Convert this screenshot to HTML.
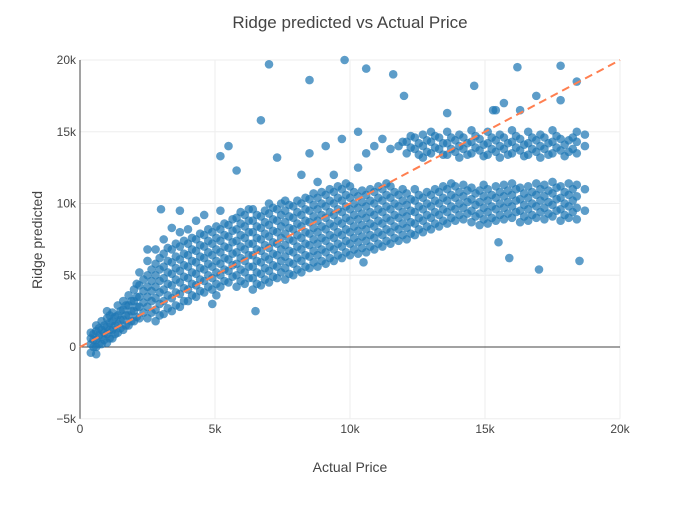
<!DOCTYPE html>
<html><head><meta charset="utf-8"><style>
body{margin:0;background:#fff;}
svg{font-family:"Liberation Sans",sans-serif;}
</style></head><body>
<svg id="chart" width="700" height="500">
<rect width="700" height="500" fill="#fff"/>
<text x="350" y="28" text-anchor="middle" font-size="17" fill="#444">Ridge predicted vs Actual Price</text>
<g id="grid"></g>
<g id="axes"></g>
<g id="points"></g>
<g id="ref"></g>
<text x="350" y="472" text-anchor="middle" font-size="14" fill="#444">Actual Price</text>
<text x="0" y="0" transform="translate(42,240) rotate(-90)" text-anchor="middle" font-size="14" fill="#444">Ridge predicted</text>
</svg>
<script>
const xTicks=[0,5000,10000,15000,20000];
const xTickLabels=["0","5k","10k","15k","20k"];
const yTicks=[-5000,0,5000,10000,15000,20000];
const yTickLabels=["−5k","0","5k","10k","15k","20k"];
const refLine=[0,20000];
const actualCols=[0.4,0.6,0.8,1.0,1.2,1.4,1.6,1.8,2.0,2.2,2.5,2.8,3.1,3.4,3.7,4.0,4.3,4.6,4.9,5.2,5.5,5.8,6.1,6.4,6.7,7.0,7.3,7.6,7.9,8.2,8.5,8.8,9.1,9.4,9.7,10.0,10.3,10.6,10.9,11.2,11.5,11.8,12.1,12.4,12.7,13.0,13.3,13.6,13.9,14.2,14.5,14.8,15.1,15.4,15.7,16.0,16.3,16.6,16.9,17.2,17.5,17.8,18.1,18.4,18.7];
const predictedCols=[
[-0.4,0.2,0.6,1.0],[-0.5,0,0.5,1.1,1.5],[0.2,0.7,1.2,1.8],[0.3,0.9,1.4,2.0,2.5],[0.6,1.2,1.8,2.4],
[1.0,1.6,2.2,2.9],[1.2,1.9,2.6,3.2],[1.5,2.2,2.9,3.6],[1.8,2.5,3.2,4.0],[2.0,2.8,3.5,4.3,5.2],
[2.0,2.8,3.5,4.2,5.0,6.0],[1.8,2.6,3.4,4.2,5.0,5.8,6.8],[2.3,3.2,4.0,4.8,5.6,6.5,7.5],[2.5,3.4,4.3,5.1,5.9,6.8,8.3],
[2.8,3.7,4.5,5.3,6.1,7.0,8.0,9.5],[3.2,4.0,4.8,5.6,6.4,7.2,8.2],[3.5,4.3,5.1,5.9,6.7,7.5,8.8],[3.8,4.6,5.4,6.2,7.0,7.8,9.2],
[3.0,4.0,4.8,5.6,6.4,7.2,8.0],[4.2,5.0,5.8,6.6,7.4,8.2,9.5,13.3],[4.5,5.3,6.1,6.9,7.7,8.5,14],[4.2,5.0,5.8,6.6,7.4,8.2,9.0,12.3],
[4.4,5.2,6.0,6.8,7.6,8.4,9.2],[4.0,4.8,5.6,6.4,7.2,8.0,8.8,9.6],[4.3,5.1,5.9,6.7,7.5,8.3,9.1,15.8],[4.5,5.3,6.1,6.9,7.7,8.5,9.3,10.0],
[4.8,5.6,6.4,7.2,8.0,8.8,9.6,13.2],[4.7,5.5,6.3,7.1,7.9,8.7,9.5,10.2],[5.0,5.8,6.6,7.4,8.2,9.0,9.8],[5.2,6.0,6.8,7.6,8.4,9.2,10.0,12.0],
[5.5,6.3,7.1,7.9,8.7,9.5,10.3,13.5],[5.6,6.4,7.2,8.0,8.8,9.6,10.4,11.5],[5.8,6.6,7.4,8.2,9.0,9.8,10.6,14.0],[6.0,6.8,7.6,8.4,9.2,10.0,10.8,12.0],
[6.2,7.0,7.8,8.6,9.4,10.2,11.0,14.5],[6.4,7.2,8.0,8.8,9.6,10.4,11.2],[6.5,7.3,8.1,8.9,9.7,10.5,12.5,15.0],[6.6,7.4,8.2,9.0,9.8,10.6,13.5],
[6.8,7.6,8.4,9.2,10.0,10.8,14.0],[7.0,7.8,8.6,9.4,10.2,11.0,14.5],[7.2,8.0,8.8,9.6,10.4,11.2,13.8],[7.4,8.2,9.0,9.8,10.6,14.0],
[7.5,8.3,9.1,9.9,10.7,13.5,14.3],[7.8,8.6,9.4,10.2,11.0,13.8,14.6],[8.0,8.8,9.6,10.4,13.2,14.0,14.8],[8.2,9.0,9.8,10.6,13.5,14.3,15.0],
[8.4,9.2,10.0,10.8,13.8,14.6],[8.6,9.4,10.2,11.0,13.4,14.2,15.0],[8.8,9.6,10.4,11.2,13.6,14.4],[8.9,9.7,10.5,11.3,13.8,14.6],
[8.7,9.5,10.3,11.1,13.5,14.3,15.1],[8.5,9.3,10.1,10.9,13.7,14.5],[8.6,9.4,10.2,11.0,13.4,14.2,15.0],[8.8,9.6,10.4,11.2,13.6,14.4,16.5],
[8.9,9.7,10.5,11.3,13.8,14.6,17.0],[9.0,9.8,10.6,11.4,13.5,14.3,15.1],[8.7,9.5,10.3,11.1,13.7,14.5,16.5],[8.8,9.6,10.4,11.2,13.4,14.2,15.0],
[9.0,9.8,10.6,11.4,13.6,14.4,17.5],[8.9,9.7,10.5,11.3,13.8,14.6],[9.1,9.9,10.7,11.5,13.5,14.3,15.1],[8.8,9.6,10.4,11.2,13.7,14.5,17.2],
[9.0,9.8,10.6,11.4,13.6,14.4],[8.9,9.7,10.5,11.3,13.5,14.3,15.0,18.5],[9.5,11.0,14.0,14.8]];
const fillActual=[0.5,0.7,0.9,1.1,1.3,1.5,1.7,1.9,2.1,2.35,2.65,2.95,3.25,3.55,3.85,4.15,4.45,4.75,5.05,5.35,5.65,5.95,6.25,6.55,6.85,7.15,7.45,7.75,8.05,8.35,8.65,8.95,9.25,9.55,9.85,10.15,10.45,10.75,11.05,11.35,11.65,11.95,12.25,12.55,12.85,13.15,13.45,13.75,14.05,14.35,14.65,14.95,15.25,15.55,15.85,16.15,16.45,16.75,17.05,17.35,17.65,17.95,18.25];
const fillPredicted=[
[0.0,0.5,0.9],[0.2,0.8,1.3],[0.5,1.0,1.5],[0.6,1.2,1.7,2.2],[0.9,1.5,2.1],
[1.3,1.9,2.5],[1.5,2.2,2.9],[1.8,2.5,3.2],[2.1,2.8,3.5,4.4],[2.4,3.1,3.9,4.7],
[2.4,3.2,3.9,4.6,5.4],[2.2,3.0,3.8,4.6,5.4,6.2],[2.7,3.6,4.4,5.2,6.0,6.9],[2.9,3.8,4.7,5.5,6.3,7.2],
[3.2,4.1,4.9,5.7,6.5,7.4],[3.6,4.4,5.2,6.0,6.8,7.6],[3.9,4.7,5.5,6.3,7.1,7.9],[4.2,5.0,5.8,6.6,7.4,8.2],
[3.6,4.4,5.2,6.0,6.8,7.6,8.4],[4.6,5.4,6.2,7.0,7.8,8.6],[4.9,5.7,6.5,7.3,8.1,8.9],[4.6,5.4,6.2,7.0,7.8,8.6,9.4],
[4.8,5.6,6.4,7.2,8.0,8.8,9.6],[4.4,5.2,6.0,6.8,7.6,8.4,9.2],[4.7,5.5,6.3,7.1,7.9,8.7,9.5],[4.9,5.7,6.5,7.3,8.1,8.9,9.7],
[5.2,6.0,6.8,7.6,8.4,9.2,10.0],[5.1,5.9,6.7,7.5,8.3,9.1,9.9],[5.4,6.2,7.0,7.8,8.6,9.4,10.2],[5.6,6.4,7.2,8.0,8.8,9.6,10.4],
[5.9,6.7,7.5,8.3,9.1,9.9,10.7],[6.0,6.8,7.6,8.4,9.2,10.0,10.8],[6.2,7.0,7.8,8.6,9.4,10.2,11.0],[6.4,7.2,8.0,8.8,9.6,10.4,11.2],
[6.6,7.4,8.2,9.0,9.8,10.6,11.4],[6.8,7.6,8.4,9.2,10.0,10.8],[6.9,7.7,8.5,9.3,10.1,10.9],[7.0,7.8,8.6,9.4,10.2,11.0],
[7.2,8.0,8.8,9.6,10.4,11.2],[7.4,8.2,9.0,9.8,10.6,11.4],[7.6,8.4,9.2,10.0,10.8],[7.8,8.6,9.4,10.2,11.0,14.3],
[7.9,8.7,9.5,10.3,13.9,14.7],[8.2,9.0,9.8,10.6,13.4,14.2],[8.4,9.2,10.0,10.8,13.6,14.4],[8.6,9.4,10.2,11.0,13.9,14.7],
[8.8,9.6,10.4,11.2,13.4,14.2],[9.0,9.8,10.6,11.4,13.8,14.6],[9.2,10.0,10.8,13.2,14.0,14.8],[9.3,10.1,10.9,13.4,14.2],
[9.1,9.9,10.7,13.9,14.7],[8.9,9.7,10.5,11.3,13.3,14.1],[9.0,9.8,10.6,13.8,14.6],[9.2,10.0,10.8,13.2,14.0,14.8],
[9.3,10.1,10.9,13.4,14.2],[9.4,10.2,11.0,13.9,14.7],[9.1,9.9,10.7,13.3,14.1],[9.2,10.0,10.8,13.8,14.6],
[9.4,10.2,11.0,13.2,14.0,14.8],[9.3,10.1,10.9,13.4,14.2],[9.5,10.3,11.1,13.9,14.7],[9.2,10.0,10.8,13.3,14.1],
[9.4,10.2,11.0,13.8,14.6]];
const outlierActual=[7,9.8,10.6,8.5,11.6,15.3,17,18.5,15.5,15.9,13.6,14.6,16.2,17.8,6.5,10.5,12,3,2.5];
const outlierPredicted=[19.7,20,19.4,18.6,19,16.5,5.4,6,7.3,6.2,16.3,18.2,19.5,19.6,2.5,5.9,17.5,9.6,6.8];

const NS="http://www.w3.org/2000/svg";
const X0=80,X1=620,Y0=347,PX=(X1-X0)/20000,PY=(347-60)/20000;
const sx=v=>X0+v*PX, sy=v=>Y0-v*PY;
function mk(tag,attrs,parent){const e=document.createElementNS(NS,tag);for(const k in attrs)e.setAttribute(k,attrs[k]);parent.appendChild(e);return e;}
const grid=document.getElementById('grid'),axes=document.getElementById('axes'),pts=document.getElementById('points'),ref=document.getElementById('ref');
xTicks.forEach((t,i)=>{
  if(t>0){const l=mk('line',{x1:sx(t),x2:sx(t),y1:sy(20000),y2:sy(-5000),stroke:'#eee','stroke-width':1},grid);
  
  }
  const tx=mk('text',{x:sx(t),y:433,'text-anchor':'middle','font-size':12,fill:'#444'},axes);tx.textContent=xTickLabels[i];
  
  
});
yTicks.forEach((t,i)=>{
  if(t!==0){const l=mk('line',{x1:X0,x2:X1,y1:sy(t),y2:sy(t),stroke:'#eee','stroke-width':1},grid);
  
  }
  const tx=mk('text',{x:76,y:sy(t)+4,'text-anchor':'end','font-size':12,fill:'#444'},axes);tx.textContent=yTickLabels[i];
  
  
});
const zl=mk('line',{x1:X0,x2:X1,y1:sy(0),y2:sy(0),stroke:'#444','stroke-width':1},axes);


const ya=mk('line',{x1:X0,x2:X0,y1:sy(20000),y2:sy(-5000),stroke:'#444','stroke-width':1},axes);


function dot(x,y){const c=mk('circle',{cx:sx(x*1000),cy:sy(y*1000),r:4.3,fill:'#1f77b4','fill-opacity':0.72},pts);
  
  }
actualCols.forEach((x,i)=>predictedCols[i].forEach(y=>dot(x,y)));
fillActual.forEach((x,i)=>fillPredicted[i].forEach(y=>dot(x,y)));
outlierActual.forEach((x,i)=>dot(x,outlierPredicted[i]));
const rl=mk('line',{x1:sx(refLine[0]),y1:sy(refLine[0]),x2:sx(refLine[1]),y2:sy(refLine[1]),stroke:'#ff7f50','stroke-width':2,'stroke-dasharray':'8,5'},ref);


</script>
</body></html>
